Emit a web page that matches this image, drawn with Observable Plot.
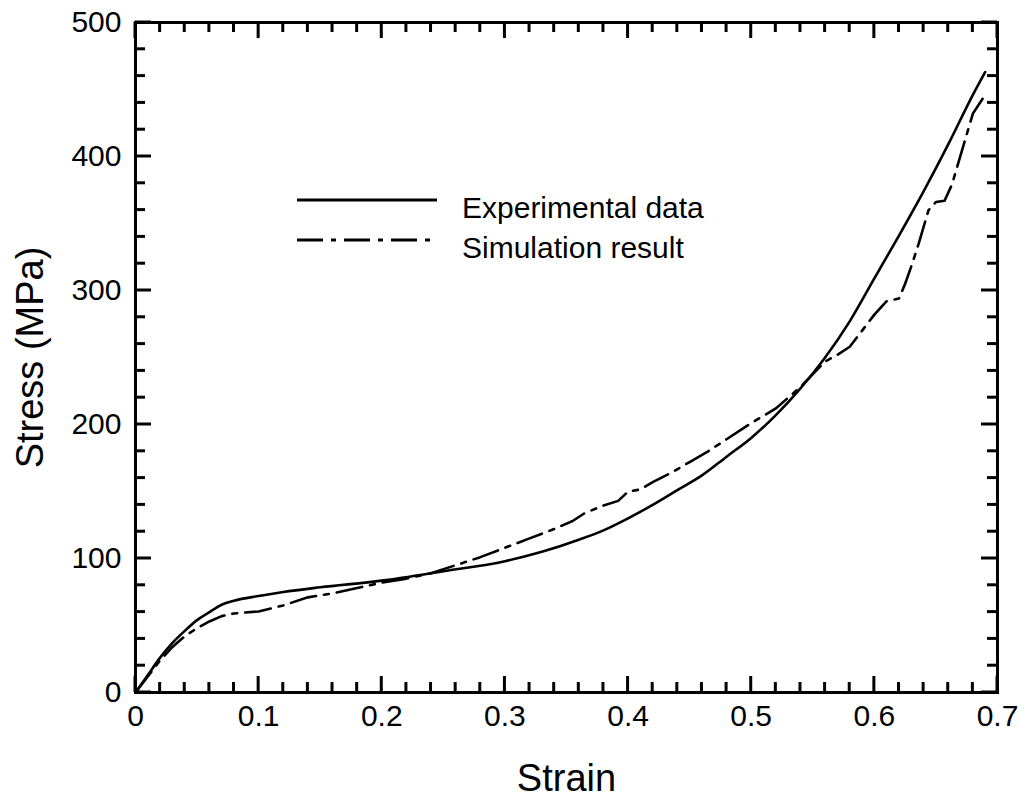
<!DOCTYPE html>
<html>
<head>
<meta charset="utf-8">
<script src="https://cdn.jsdelivr.net/npm/d3@7"></script>
<script src="https://cdn.jsdelivr.net/npm/@observablehq/plot@0.6"></script>
<style>
  html, body { margin: 0; padding: 0; background: white; }
  #chart { width: 1021px; height: 797px; }
</style>
</head>
<body>
<div id="chart"></div>
<script>
// Experimental data (solid)
const expStrain = [0, 0.01, 0.02, 0.03, 0.04, 0.05, 0.06, 0.07, 0.08, 0.1, 0.12, 0.15, 0.2, 0.25, 0.3, 0.33, 0.36, 0.38, 0.4, 0.42, 0.44, 0.46, 0.48, 0.5, 0.52, 0.54, 0.56, 0.58, 0.6, 0.62, 0.64, 0.66, 0.68, 0.69];
const expStress = [0, 13, 26, 37, 46, 54, 60, 65.5, 68.5, 72, 75, 78.5, 83.5, 90.5, 98, 105, 114, 121, 130, 140, 151, 162, 176, 190, 207, 227, 250, 277, 309, 341, 374, 409, 446, 463];

// Simulation result (dash-dot)
const simStrain = [0, 0.01, 0.02, 0.03, 0.04, 0.05, 0.06, 0.07, 0.08, 0.1, 0.12, 0.14, 0.16, 0.18, 0.2, 0.22, 0.24, 0.26, 0.28, 0.3, 0.32, 0.34, 0.355, 0.365, 0.38, 0.392, 0.4, 0.41, 0.42, 0.435, 0.45, 0.465, 0.48, 0.5, 0.52, 0.54, 0.56, 0.57, 0.58, 0.6, 0.61, 0.62, 0.625, 0.63, 0.636, 0.644, 0.65, 0.657, 0.663, 0.671, 0.68, 0.69];
const simStress = [0, 12, 24, 34, 42, 48, 53, 57, 59, 60.5, 65, 71, 74, 78, 82, 85, 89, 95, 101, 108, 115, 122, 128, 134, 139.5, 143, 150, 151.5, 157, 164, 172, 180, 189, 201, 212, 228, 247, 252, 258, 282, 292, 294, 305, 318, 335, 360, 366, 367, 379, 404, 432, 446];

const xMajor = [0, 0.1, 0.2, 0.3, 0.4, 0.5, 0.6, 0.7];
const yMajor = [0, 100, 200, 300, 400, 500];
const xMinor = d3.range(0, 36).map(i => i * 0.02).filter(v => Math.abs(v * 10 - Math.round(v * 10)) > 1e-6);
const yMinor = d3.range(0, 26).map(i => i * 20).filter(v => v % 100 !== 0);

const legendItems = ["Experimental data", "Simulation result"];
const xTitle = "Strain";
const yTitle = "Stress (MPa)";

const expData = expStrain.map((s, i) => ({strain: s, stress: expStress[i]}));
const simData = simStrain.map((s, i) => ({strain: s, stress: simStress[i]}));

const W = 1021, H = 797;
const mL = 135, mR = 24, mT = 22, mB = 105;
const dash = "26,8,5,8";
const font = "'Liberation Sans', Arial, sans-serif";

const svg = Plot.plot({
  width: W, height: H,
  marginLeft: mL, marginRight: mR, marginTop: mT, marginBottom: mB,
  x: {domain: [0, 0.7]},
  y: {domain: [0, 500]},
  style: {fontFamily: font, background: "white", color: "black", overflow: "visible"},
  marks: [
    Plot.line(expData, {x: "strain", y: "stress", stroke: "black", strokeWidth: 2.6, curve: "monotone-x"}),
    Plot.line(simData, {x: "strain", y: "stress", stroke: "black", strokeWidth: 2.6, strokeDasharray: dash, curve: "linear"}),
    Plot.frame({stroke: "black", strokeWidth: 3}),
    Plot.axisX(xMajor, {tickSize: 0, tickPadding: 12, fontSize: 30, label: null, tickFormat: d => String(+d.toFixed(1))}),
    Plot.axisY(yMajor, {tickSize: 0, tickPadding: 14, fontSize: 30, label: null, tickFormat: d => String(d)}),
    Plot.text([xTitle], {frameAnchor: "bottom", dy: 86, fontSize: 38, lineAnchor: "middle", textAnchor: "middle", text: d => d}),
    Plot.text([yTitle], {frameAnchor: "left", dx: -105, rotate: -90, fontSize: 38, lineAnchor: "middle", textAnchor: "middle", text: d => d})
  ]
});

// Inward ticks on all four sides, positioned with Plot's own scales
const sx = svg.scale("x"), sy = svg.scale("y");
const x0 = sx.apply(sx.domain[0]), x1 = sx.apply(sx.domain[1]);
const y0 = sy.apply(sy.domain[0]), y1 = sy.apply(sy.domain[1]);
const tg = d3.select(svg).append("g").attr("stroke", "black").attr("stroke-width", 3);
function xTicks(vals, len) {
  vals.forEach(v => {
    const px = sx.apply(v);
    tg.append("line").attr("x1", px).attr("x2", px).attr("y1", y0).attr("y2", y0 - len);
    tg.append("line").attr("x1", px).attr("x2", px).attr("y1", y1).attr("y2", y1 + len);
  });
}
function yTicks(vals, len) {
  vals.forEach(v => {
    const py = sy.apply(v);
    tg.append("line").attr("y1", py).attr("y2", py).attr("x1", x0).attr("x2", x0 + len);
    tg.append("line").attr("y1", py).attr("y2", py).attr("x1", x1).attr("x2", x1 - len);
  });
}
xTicks(xMajor, 16); xTicks(xMinor, 10);
yTicks(yMajor, 16); yTicks(yMinor, 10);

// Legend inside plot area
const g = d3.select(svg).append("g").attr("transform", "translate(297,200)");
legendItems.forEach((label, i) => {
  const yy = i * 40;
  g.append("line")
    .attr("x1", 0).attr("x2", 140).attr("y1", yy).attr("y2", yy)
    .attr("stroke", "black").attr("stroke-width", 3)
    .attr("stroke-dasharray", i === 1 ? dash : null);
  g.append("text")
    .attr("x", 165).attr("y", yy + 18)
    .attr("font-size", 30)
    .attr("font-family", font)
    .attr("text-anchor", "start")
    .attr("fill", "black")
    .text(label);
});

document.getElementById("chart").appendChild(svg);
</script>
</body>
</html>
